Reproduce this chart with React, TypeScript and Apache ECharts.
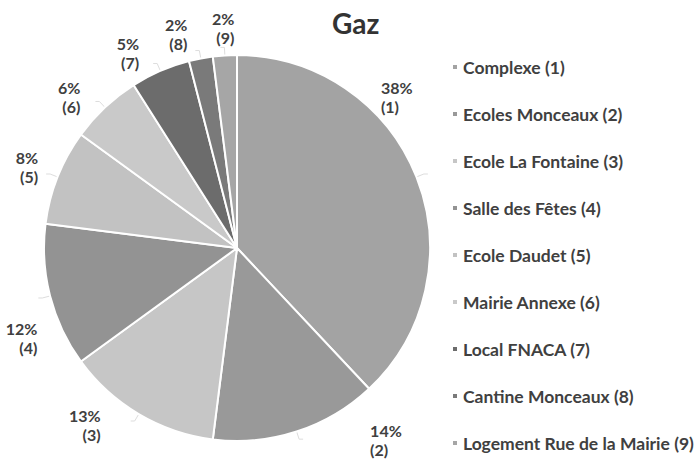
import React, { useEffect, useRef } from "react";
import * as echarts from "echarts";

const categories = [
  "Complexe (1)",
  "Ecoles Monceaux (2)",
  "Ecole La Fontaine (3)",
  "Salle des Fêtes (4)",
  "Ecole Daudet (5)",
  "Mairie Annexe (6)",
  "Local FNACA (7)",
  "Cantine Monceaux (8)",
  "Logement Rue de la Mairie (9)",
];
const shortLabels = ["(1)", "(2)", "(3)", "(4)", "(5)", "(6)", "(7)", "(8)", "(9)"];
const values = [38, 14, 13, 12, 8, 6, 5, 2, 2];
const colors = ["#a3a3a3", "#999999", "#c6c6c6", "#939393", "#c2c2c2", "#c9c9c9", "#6c6c6c", "#7a7a7a", "#a6a6a6"];

export default function App() {
  const ref = useRef<HTMLDivElement>(null);
  useEffect(() => {
    if (!ref.current) return;
    const chart = echarts.init(ref.current, null, { renderer: "svg" });
    const font = "Lato, 'Open Sans', sans-serif";
    // fine nudges so labels sit where the original (Excel best-fit) put them
    const nudges: Record<number, [number, number]> = {
      0: [-52, -77],
      1: [62, 1],
      2: [-25, 4],
      3: [4, 40],
      4: [-3, -7],
      5: [-10, -4],
      6: [-9, -11],
      7: [-3, -17],
      8: [19, -19],
    };
    chart.setOption({
      animation: false,
      backgroundColor: "#ffffff",
      title: {
        text: "Gaz",
        left: 327,
        top: 4,
        textStyle: { fontFamily: font, fontSize: 28, fontWeight: "bold", color: "#333333" },
      },
      legend: {
        orient: "vertical",
        left: 451,
        top: 57,
        height: 420,
        padding: 0,
        itemWidth: 6,
        itemHeight: 6,
        itemGap: 27,
        icon: "rect",
        textStyle: { fontFamily: font, fontSize: 17.5, fontWeight: "bold", color: "#404040", lineHeight: 20 },
        data: categories,
      },
      series: [
        {
          type: "pie",
          center: [237, 248],
          radius: 193,
          startAngle: 90,
          clockwise: true,
          avoidLabelOverlap: false,
          itemStyle: { borderColor: "#ffffff", borderWidth: 2 },
          label: {
            show: true,
            position: "outside",
            fontFamily: font,
            fontSize: 16,
            fontWeight: "bold",
            color: "#404040",
            lineHeight: 19,
            align: "center",
            formatter: (p: any) => `${Math.round(p.percent)}%\n${shortLabels[p.dataIndex]}`,
          },
          labelLine: {
            show: true,
            length: 8,
            length2: 4,
            lineStyle: { color: "#dddddd", width: 1 },
          },
          labelLayout: (params: any) => {
            const n = nudges[params.dataIndex];
            return n ? { dx: n[0], dy: n[1] } : {};
          },
          data: categories.map((name, i) => ({ name, value: values[i], itemStyle: { color: colors[i] } })),
        },
      ],
    });
    return () => chart.dispose();
  }, []);
  return (
    <div
      ref={ref}
      style={{ position: "absolute", left: 0, top: 0, width: 696, height: 463 }}
    />
  );
}
